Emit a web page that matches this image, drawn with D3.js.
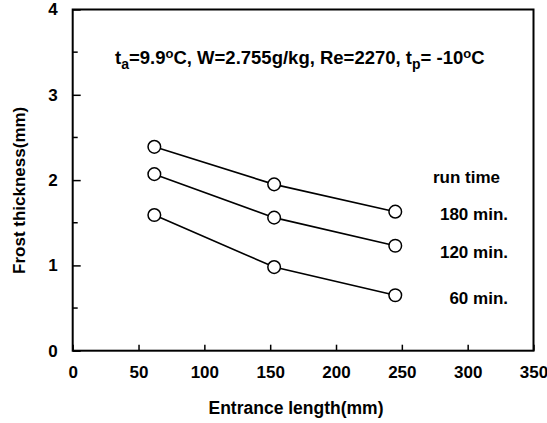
<!DOCTYPE html>
<html>
<head>
<meta charset="utf-8">
<script src="https://cdn.jsdelivr.net/npm/d3@7"></script>
<style>
  body { margin: 0; background: #fff; }
  svg { display: block; font-family: "Liberation Sans", Arial, sans-serif; font-weight: bold; }
</style>
</head>
<body>
<div class="canvas"></div>
<script>
const lengths = [62, 153, 245];
const runTimes = ["180 min.", "120 min.", "60 min."];
const thick180 = [2.39, 1.95, 1.63];
const thick120 = [2.07, 1.56, 1.23];
const thick60 = [1.59, 0.98, 0.65];
const xTicks = [0, 50, 100, 150, 200, 250, 300, 350];
const yTicks = [0, 1, 2, 3, 4];
const yMinor = [0.5, 1.5, 2.5, 3.5];

const width = 547;
const height = 423;
const margin = { top: 9.5, right: 13.5, bottom: 72.3, left: 72.7 };
const innerWidth = width - margin.left - margin.right;
const innerHeight = height - margin.top - margin.bottom;

const svg = d3
  .select(".canvas")
  .append("svg")
  .attr("width", width)
  .attr("height", height);

const g = svg
  .append("g")
  .attr("transform", `translate(${margin.left}, ${margin.top})`);

const x = d3.scaleLinear().domain([0, 350]).range([0, innerWidth]);
const y = d3.scaleLinear().domain([0, 4]).range([innerHeight, 0]);

// x axis, ticks pointing inward
g.append("g")
  .attr("transform", `translate(0, ${innerHeight})`)
  .call(d3.axisBottom(x).tickValues(xTicks).tickSize(-6).tickPadding(15));

// y axis, major ticks inward
g.append("g")
  .call(d3.axisLeft(y).tickValues(yTicks).tickFormat(d3.format("d")).tickSize(-8).tickPadding(15));

// minor y ticks, lines only
g.append("g")
  .selectAll("line")
  .data(yMinor)
  .enter()
  .append("line")
  .attr("x1", 0)
  .attr("x2", 5)
  .attr("y1", (d) => y(d))
  .attr("y2", (d) => y(d))
  .attr("stroke", "#000")
  .attr("stroke-width", 1.5);

g.selectAll(".tick line").attr("stroke", "#000").attr("stroke-width", 1.5);
g.selectAll(".domain").remove();
g.selectAll(".tick text")
  .attr("font-size", 17)
  .attr("font-family", "Liberation Sans, Arial, sans-serif")
  .attr("font-weight", "bold")
  .attr("fill", "#000");

// frame
g.append("rect")
  .attr("width", innerWidth)
  .attr("height", innerHeight)
  .attr("fill", "none")
  .attr("stroke", "#000")
  .attr("stroke-width", 2);

// series
const series = [thick180, thick120, thick60];
const line = d3
  .line()
  .x((d, i) => x(lengths[i]))
  .y((d) => y(d));

series.forEach((vals) => {
  g.append("path")
    .datum(vals)
    .attr("d", line)
    .attr("fill", "none")
    .attr("stroke", "#000")
    .attr("stroke-width", 1.6);

  g.selectAll(null)
    .data(vals)
    .enter()
    .append("circle")
    .attr("cx", (d, i) => x(lengths[i]))
    .attr("cy", (d) => y(d))
    .attr("r", 6.3)
    .attr("fill", "#fff")
    .attr("stroke", "#000")
    .attr("stroke-width", 1.5);
});

// run time labels
svg.append("text")
  .attr("x", 433)
  .attr("y", 183)
  .attr("font-size", 17)
  .text("run time");

svg.selectAll(".rt")
  .data(runTimes)
  .enter()
  .append("text")
  .attr("class", "rt")
  .attr("x", 508)
  .attr("y", (d, i) => [220, 258, 304][i])
  .attr("text-anchor", "end")
  .attr("font-size", 17)
  .text((d) => d);

// conditions annotation
const note = svg.append("text")
  .attr("x", 115)
  .attr("y", 64)
  .attr("font-size", 18.5);
note.append("tspan").text("t");
note.append("tspan").attr("dy", 5).attr("font-size", 14).text("a");
note.append("tspan").attr("dy", -5).text("=9.9");
note.append("tspan").attr("dy", -6).attr("font-size", 13).text("o");
note.append("tspan").attr("dy", 6).text("C, W=2.755g/kg, Re=2270, t");
note.append("tspan").attr("dy", 5).attr("font-size", 14).text("p");
note.append("tspan").attr("dy", -5).text("= -10");
note.append("tspan").attr("dy", -6).attr("font-size", 13).text("o");
note.append("tspan").attr("dy", 6).text("C");

// axis titles
svg.append("text")
  .attr("x", 296)
  .attr("y", 414)
  .attr("text-anchor", "middle")
  .attr("font-size", 17.5)
  .text("Entrance length(mm)");

svg.append("text")
  .attr("transform", `translate(25, ${margin.top + y(1.88)}) rotate(-90)`)
  .attr("text-anchor", "middle")
  .attr("font-size", 17)
  .text("Frost thickness(mm)");
</script>
</body>
</html>
